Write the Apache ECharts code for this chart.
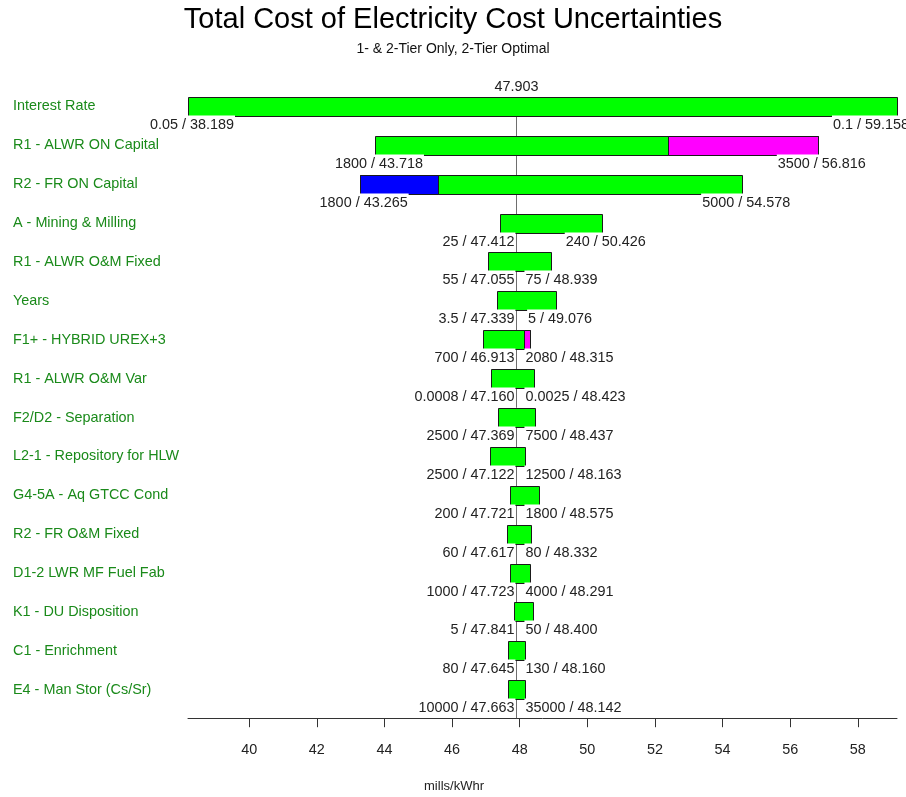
<!DOCTYPE html>
<html>
<head>
<meta charset="utf-8">
<title>Total Cost of Electricity Cost Uncertainties</title>
<script src="https://cdn.jsdelivr.net/npm/echarts@6/dist/echarts.min.js"></script>
<style>
  html, body { margin: 0; padding: 0; background: #ffffff; }
  #chart { width: 906px; height: 797px; }
</style>
</head>
<body>
<div id="chart"></div>
<script>
// Tornado chart: total cost of electricity (mills/kWhr) swing for each input.
const categories = [
  'Interest Rate',
  'R1 - ALWR ON Capital',
  'R2 - FR ON Capital',
  'A - Mining & Milling',
  'R1 - ALWR O&M Fixed',
  'Years',
  'F1+ - HYBRID UREX+3',
  'R1 - ALWR O&M Var',
  'F2/D2 - Separation',
  'L2-1 - Repository for HLW',
  'G4-5A - Aq GTCC Cond',
  'R2 - FR O&M Fixed',
  'D1-2 LWR MF Fuel Fab',
  'K1 - DU Disposition',
  'C1 - Enrichment',
  'E4 - Man Stor (Cs/Sr)'
];

// Input setting at the low end of each swing and the resulting cost
const lowParam = ['0.05', '1800', '1800', '25', '55', '3.5', '700', '0.0008',
                  '2500', '2500', '200', '60', '1000', '5', '80', '10000'];
const lowCost = [38.189, 43.718, 43.265, 47.412, 47.055, 47.339, 46.913, 47.160,
                 47.369, 47.122, 47.721, 47.617, 47.723, 47.841, 47.645, 47.663];

// Input setting at the high end of each swing and the resulting cost
const highParam = ['0.1', '3500', '5000', '240', '75', '5', '2080', '0.0025',
                   '7500', '12500', '1800', '80', '4000', '50', '130', '35000'];
const highCost = [59.158, 56.816, 54.578, 50.426, 48.939, 49.076, 48.315, 48.423,
                  48.437, 48.163, 48.575, 48.332, 48.291, 48.400, 48.160, 48.142];

// Base-case cost (all inputs at nominal)
const baseCost = 47.903;

// Parts of a swing where the optimal tier choice changes
const accentCategory = ['R1 - ALWR ON Capital', 'R2 - FR ON Capital', 'F1+ - HYBRID UREX+3'];
const accentFrom = [52.40, 43.265, 48.13];
const accentTo = [56.816, 45.59, 48.315];
const accentTier = ['upper', 'lower', 'upper'];

// Axis ticks
const xTicks = [40, 42, 44, 46, 48, 50, 52, 54, 56, 58];
const axisName = 'mills/kWhr';

// ---- styling ----
const FONT = '"Liberation Sans", Arial, Helvetica, sans-serif';
const LABEL_SIZE = 14.4;
const BAR_FILL = '#00ff00';
const TIER_FILL = { upper: '#ff00ff', lower: '#0000ff' };
const EDGE = '#1a1a1a';
const AXIS_OFFSET = 9;

const measureCtx = document.createElement('canvas').getContext('2d');
measureCtx.font = LABEL_SIZE + 'px ' + FONT;
function textWidth(t) { return measureCtx.measureText(t).width; }

function snap(v) { return Math.round(v) + 0.5; }

function valueLabel(text, centerX, top) {
  return {
    type: 'text',
    z2: 5,
    x: centerX,
    y: top,
    style: {
      text: text,
      fontSize: LABEL_SIZE,
      fontFamily: FONT,
      fill: '#222222',
      align: 'center',
      verticalAlign: 'top',
      lineHeight: 19,
      backgroundColor: '#ffffff',
      padding: [0, 1, 0, 1]
    }
  };
}

function renderSwing(params, api) {
  const i = params.dataIndex;
  const row = api.value(0);
  const lo = api.value(1);
  const hi = api.value(2);
  const pLo = api.coord([lo, row]);
  const pHi = api.coord([hi, row]);
  const cx = api.coord([baseCost, row])[0];
  const band = api.size([0, 1])[1];
  const h = Math.round(band * 0.49);
  const top = snap(pLo[1] - h / 2);

  const rect = (x0, x1, fill) => ({
    type: 'rect',
    z2: 2,
    shape: { x: snap(x0), y: top, width: Math.round(x1) - Math.round(x0), height: h },
    style: { fill: fill, stroke: EDGE, lineWidth: 1 }
  });

  const children = [rect(pLo[0], pHi[0], BAR_FILL)];
  for (let k = 0; k < accentCategory.length; k++) {
    if (accentCategory[k] === categories[i]) {
      const a = api.coord([accentFrom[k], row])[0];
      const b = api.coord([accentTo[k], row])[0];
      children.push(rect(a, b, TIER_FILL[accentTier[k]]));
    }
  }

  const labelTop = top + h - 1;
  const leftText = lowParam[i] + ' / ' + lowCost[i].toFixed(3);
  const rightText = highParam[i] + ' / ' + highCost[i].toFixed(3);
  const wl = textWidth(leftText) + 2;
  const wr = textWidth(rightText) + 2;

  let lx = Math.min(pLo[0] + 4, cx - 1 - wl / 2);
  let rx = Math.max(pHi[0] + 4, cx + 8 + wr / 2);
  if (rx + wr / 2 > 910) rx = 910 - wr / 2;

  children.push(valueLabel(leftText, lx, labelTop));
  children.push(valueLabel(rightText, rx, labelTop));

  return { type: 'group', children: children };
}

function renderBaseLine(params, api) {
  const cs = params.coordSys;
  const x = snap(api.coord([api.value(0), 0])[0]);
  const band = api.size([0, 1])[1];
  const h = Math.round(band * 0.49);
  const firstTop = Math.round(api.coord([api.value(0), 0])[1] - h / 2);
  const yBottom = cs.y + cs.height + AXIS_OFFSET;
  return {
    type: 'group',
    children: [
      {
        type: 'line',
        shape: { x1: x, y1: firstTop, x2: x, y2: yBottom },
        style: { stroke: '#6e6e6e', lineWidth: 1 }
      },
      {
        type: 'text',
        x: x,
        y: firstTop - 10,
        style: {
          text: baseCost.toFixed(3),
          fontSize: LABEL_SIZE,
          fontFamily: FONT,
          fill: '#222222',
          align: 'center',
          verticalAlign: 'middle'
        }
      }
    ]
  };
}

const chart = echarts.init(document.getElementById('chart'), null, { renderer: 'canvas' });

chart.setOption({
  animation: false,
  backgroundColor: '#ffffff',
  title: {
    text: 'Total Cost of Electricity Cost Uncertainties',
    subtext: '1- & 2-Tier Only, 2-Tier Optimal',
    left: 'center',
    top: 5,
    padding: 0,
    itemGap: 6,
    textStyle: { fontFamily: FONT, fontSize: 29, fontWeight: 'normal', color: '#000000', lineHeight: 30 },
    subtextStyle: { fontFamily: FONT, fontSize: 14, color: '#111111', lineHeight: 16 }
  },
  grid: { left: 188, right: 9, top: 87, height: 622.2, containLabel: false },
  xAxis: {
    type: 'value',
    min: lowCost[0],
    max: highCost[0],
    position: 'bottom',
    offset: AXIS_OFFSET,
    splitLine: { show: false },
    axisLine: { show: true, lineStyle: { color: '#333333', width: 1 } },
    axisTick: { show: true, customValues: xTicks, length: 9, lineStyle: { color: '#333333' } },
    axisLabel: {
      customValues: xTicks,
      margin: 25,
      fontSize: LABEL_SIZE,
      fontFamily: FONT,
      color: '#222222'
    }
  },
  yAxis: {
    type: 'category',
    data: categories,
    inverse: true,
    axisLine: { show: false },
    axisTick: { show: false },
    splitLine: { show: false },
    axisLabel: {
      align: 'left',
      margin: 175,
      fontSize: LABEL_SIZE,
      fontFamily: FONT,
      color: '#1a8a1a'
    }
  },
  graphic: [
    {
      type: 'text',
      x: 454,
      y: 786,
      style: {
        text: axisName,
        fontSize: 13,
        fontFamily: FONT,
        fill: '#222222',
        align: 'center',
        verticalAlign: 'middle'
      }
    }
  ],
  series: [
    {
      type: 'custom',
      name: 'base',
      z: 1,
      renderItem: renderBaseLine,
      encode: { x: 0 },
      data: [[baseCost]]
    },
    {
      type: 'custom',
      name: 'swing',
      z: 2,
      renderItem: renderSwing,
      encode: { y: 0, x: [1, 2] },
      data: categories.map((c, i) => [i, lowCost[i], highCost[i]])
    }
  ]
});
</script>
</body>
</html>
